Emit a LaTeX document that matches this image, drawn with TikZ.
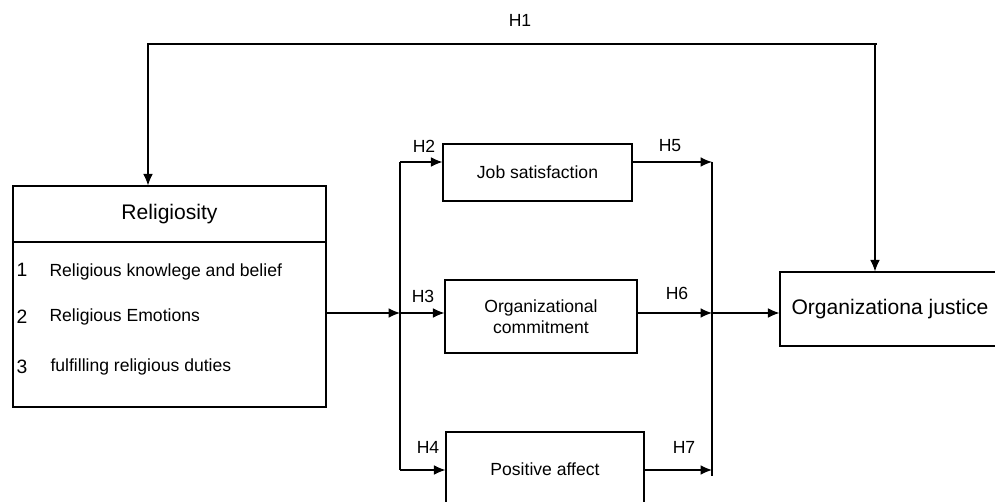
\documentclass[tikz,border=0pt]{standalone}
\usepackage{fontspec}
\setmainfont{Liberation Sans}
\usetikzlibrary{arrows.meta}
\tikzset{
  box/.style={draw, line width=0.7pt, inner sep=0pt, align=center, font=\fontsize{10}{12}\selectfont},
  arr/.style={-{Latex[length=6.5pt,width=5.5pt]}},
  hyp/.style={font=\fontsize{10}{12}\selectfont},
}
\begin{document}
\begin{tikzpicture}[x=0.02cm, y=-0.02cm, line width=0.6pt]
\clip (0,0) rectangle (995,502);
\fill[white] (0,0) rectangle (995,502);
\node[box, minimum width=6.26cm, minimum height=4.42cm] (relig) at (169.5,296.5) {};
\draw[line width=0.8pt] (relig.west |- 0,242) -- (relig.east |- 0,242);
\node[font=\fontsize{12}{14}\selectfont] (religt) at (169.5,214) {Religiosity};
\node[font=\fontsize{11}{13}\selectfont] (n1) at (22,270) {1};
\node[font=\fontsize{11}{13}\selectfont] (n2) at (22,317) {2};
\node[font=\fontsize{11}{13}\selectfont] (n3) at (22,367) {3};
\node[anchor=west, inner sep=0pt, font=\fontsize{10}{12}\selectfont] (i1) at (49,272) {Religious knowlege and belief};
\node[anchor=west, inner sep=0pt, font=\fontsize{10}{12}\selectfont] (i2) at (49,317) {Religious Emotions};
\node[anchor=west, inner sep=0pt, font=\fontsize{10}{12}\selectfont] (i3) at (50,367) {fulfilling religious duties};
\node[box, minimum width=3.78cm, minimum height=1.14cm] (job) at (537.5,172.5) {Job satisfaction};
\node[box, minimum width=3.84cm, minimum height=1.46cm] (comm) at (541,316.5) {Organizational\\commitment};
\node[box, minimum width=3.96cm, minimum height=1.48cm] (pos) at (545,469) {Positive affect};
\node[box, minimum width=4.4cm, minimum height=1.48cm, font=\fontsize{12}{14}\selectfont] (just) at (890,309) {Organizationa justice};
\coordinate (lbtop) at (400,162);
\coordinate (lb) at (400,313);
\coordinate (lbbot) at (400,470);
\coordinate (rbtop) at (712,162);
\coordinate (rb) at (712,313);
\coordinate (rbbot) at (712,470);
\coordinate (h1l) at (148,44);
\coordinate (h1r) at (875,44);
\draw[arr] (relig.east |- lb) -- (lb);
\draw (lbtop) -- (lbbot);
\draw[arr] (lbtop) -- (job.west |- lbtop);
\draw[arr] (lb) -- (comm.west |- lb);
\draw[arr] (lbbot) -- (pos.west |- lbbot);
\draw (rbtop) -- ([yshift=-0.12cm]rbbot);
\draw[arr] (job.east |- rbtop) -- (rbtop);
\draw[arr] (comm.east |- rb) -- (rb);
\draw[arr] (pos.east |- rbbot) -- (rbbot);
\draw[arr] (rb) -- (just.west |- rb);
\draw[arr] (h1r) -- (h1l) -- (h1l |- relig.north);
\draw[arr] ([xshift=0.04cm]h1r) -- (h1r) -- (h1r |- just.north);
\node[hyp] (lh1) at (520,20) {H1};
\node[hyp] (lh2) at (424,146) {H2};
\node[hyp] (lh3) at (423,296) {H3};
\node[hyp] (lh4) at (428,447) {H4};
\node[hyp] (lh5) at (670,146) {H5};
\node[hyp] (lh6) at (677,293) {H6};
\node[hyp] (lh7) at (684,447) {H7};
\end{tikzpicture}
\end{document}
